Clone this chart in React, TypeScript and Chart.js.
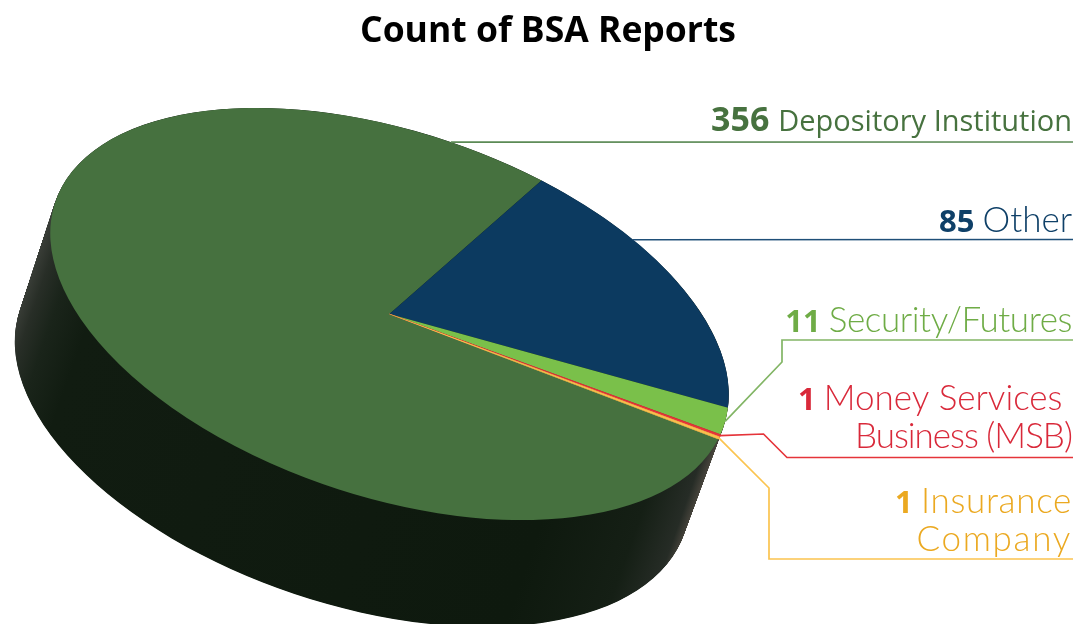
import React, { useEffect, useRef } from "react";
import { Chart, registerables } from "chart.js";

Chart.register(...registerables);

const titleText = "Count of BSA Reports";
const categories = ["Depository Institution", "Other", "Security/Futures", "Money Services Business (MSB)", "Insurance Company"];
const categoryLines = [["Depository Institution"], ["Other"], ["Security/Futures"], ["Money Services ", "Business (MSB)"], ["Insurance", "Company"]];
const counts = [356, 85, 11, 1, 1];
const sliceColors = ["#46713f", "#0c3a60", "#7ac04a", "#e5343a", "#f9c04e"];
const textColors = ["#47723f", "#0f4068", "#6fac46", "#d9293a", "#eba921"];
const lineColors = ["#5b8a55", "#1f4f78", "#82b565", "#e5343a", "#fbc44f"];
const sliceEdges = [0, 0, 0, 1.2, 0.8];
const lineTracking = [[0], [0], [-0.4], [0, -1], [0.7, 1.7]];

const CX = 389.5, CY = 314, RA = 352.5, RB = 182.5, TILT = (18.5 * Math.PI) / 180;
const DEPTH_X = -37.5, DEPTH_Y = 108, DEPTH_SCALE = 0.994;
const RIGHT = 1073;

function rim(deg: number) {
  const c = Math.cos(deg), s = Math.sin(deg);
  const ex = RA * c, ey = RB * s;
  return { x: CX + ex * Math.cos(TILT) - ey * Math.sin(TILT), y: CY + ex * Math.sin(TILT) + ey * Math.cos(TILT) };
}

function rimAtY(start: number, end: number, y: number) {
  let best = rim(start), bestD = Infinity;
  for (let i = 0; i <= 400; i++) {
    const p = rim(start + ((end - start) * i) / 400);
    const d = Math.abs(p.y - y);
    if (d < bestD) { bestD = d; best = p; }
  }
  return best;
}

const pie3d = {
  id: "pie3d",
  beforeDatasetsDraw(chart: any) {
    const ctx = chart.ctx;
    const A = { x: RA * Math.cos(TILT), y: RA * Math.sin(TILT) };
    const B = { x: -RB * Math.sin(TILT), y: RB * Math.cos(TILT) };
    const t0 = Math.atan2(B.x * DEPTH_Y - B.y * DEPTH_X, A.x * DEPTH_Y - A.y * DEPTH_X);
    const a = rim(t0), b = rim(t0 + Math.PI);
    const left = a.x < b.x ? a : b, right = a.x < b.x ? b : a;
    const len = Math.hypot(DEPTH_X, DEPTH_Y);
    const nx = DEPTH_Y / len, ny = -DEPTH_X / len;
    const span = (right.x - left.x) * nx + (right.y - left.y) * ny;
    const g = ctx.createLinearGradient(left.x, left.y, left.x + nx * span, left.y + ny * span);
    const stops: [number, string][] = [[0, "#3a3e38"], [0.02, "#282e27"], [0.05, "#1a241a"], [0.1, "#111c11"], [0.8, "#0e190e"], [0.93, "#151f15"], [0.985, "#262c26"], [1, "#4a463e"]];
    stops.forEach(([v, c]) => g.addColorStop(v, c));
    ctx.save();
    ctx.fillStyle = g;
    const steps = 220;
    for (let i = steps; i >= 0; i--) {
      const t = i / steps;
      const k = 1 + (DEPTH_SCALE - 1) * t;
      ctx.beginPath();
      ctx.ellipse(CX + DEPTH_X * t, CY + DEPTH_Y * t, RA * k, RB * k, TILT, 0, Math.PI * 2);
      ctx.fill();
    }
    ctx.restore();

    const arc = chart.getDatasetMeta(0).data[0];
    const R = arc.outerRadius;
    ctx.save();
    ctx.translate(CX, CY);
    ctx.rotate(TILT);
    ctx.scale(RA / R, RB / R);
    ctx.translate(-arc.x, -arc.y);
  },
  afterDatasetsDraw(chart: any) {
    const ctx = chart.ctx;
    ctx.restore();
    const arcs = chart.getDatasetMeta(0).data;
    const mid = (i: number) => (arcs[i].startAngle + arcs[i].endAngle) / 2;
    const routes: { x: number; y: number }[][] = [
      [rimAtY(arcs[0].endAngle - Math.PI / 3, arcs[0].endAngle, 142), { x: RIGHT, y: 142 }],
      [rimAtY(arcs[1].startAngle, arcs[1].endAngle, 239.5), { x: RIGHT, y: 239.5 }],
      [rim(mid(2)), { x: 782, y: 362 }, { x: 782, y: 340 }, { x: RIGHT, y: 340 }],
      [rim(mid(3)), { x: 763.5, y: 434 }, { x: 787, y: 457.5 }, { x: RIGHT, y: 457.5 }],
      [rim(mid(4)), { x: 769, y: 488 }, { x: 769, y: 559 }, { x: RIGHT, y: 559 }],
    ];
    ctx.save();
    routes.forEach((pts, i) => {
      ctx.beginPath();
      pts.forEach((p, k) => (k ? ctx.lineTo(p.x, p.y) : ctx.moveTo(p.x, p.y)));
      ctx.strokeStyle = lineColors[i];
      ctx.lineWidth = 1.7;
      ctx.stroke();
    });
    const baselines = [[131], [232], [332], [410, 448], [513, 551]];
    ctx.textAlign = "left";
    ctx.textBaseline = "alphabetic";
    categoryLines.forEach((lines, i) => {
      lines.forEach((line, k) => {
        const y = baselines[i][k];
        ctx.fillStyle = textColors[i];
        const textFont = i === 0 ? '400 29px "Open Sans"' : "300 35px Lato";
        const numFont = i === 0 ? '700 34px "Open Sans"' : '700 31px "Open Sans"';
        const num = k === 0 ? String(counts[i]) + " " : "";
        const track = `${lineTracking[i][k]}px`;
        ctx.letterSpacing = track;
        ctx.font = textFont;
        const lw = ctx.measureText(line).width;
        ctx.letterSpacing = "0px";
        ctx.font = numFont;
        const nw = num ? ctx.measureText(num).width : 0;
        const x0 = RIGHT - 1 - lw - nw;
        if (num) ctx.fillText(num, x0, y);
        ctx.letterSpacing = track;
        ctx.font = textFont;
        ctx.fillText(line, x0 + nw, y);
        ctx.letterSpacing = "0px";
      });
    });
    ctx.restore();
  },
};

export default function App() {
  const ref = useRef<HTMLCanvasElement>(null);
  useEffect(() => {
    document.body.style.margin = "0";
    const chart = new Chart(ref.current!, {
      type: "pie",
      data: {
        labels: categories,
        datasets: [{
          data: counts,
          backgroundColor: sliceColors,
          borderColor: sliceColors,
          borderWidth: sliceEdges,
          clip: false,
        } as any],
      },
      options: {
        responsive: false,
        animation: false,
        rotation: 94.5,
        layout: { padding: { left: 19, right: 0, top: 0, bottom: 0 } },
        plugins: {
          legend: { display: false },
          tooltip: { enabled: false },
          title: {
            display: true,
            text: titleText,
            color: "#000000",
            font: { family: "Open Sans", size: 35.5, weight: "700" },
            padding: { top: 11, bottom: 8 },
          },
        },
      },
      plugins: [pie3d],
    } as any);
    return () => chart.destroy();
  }, []);
  return <canvas ref={ref} width={1077} height={624} style={{ display: "block" }} />;
}
